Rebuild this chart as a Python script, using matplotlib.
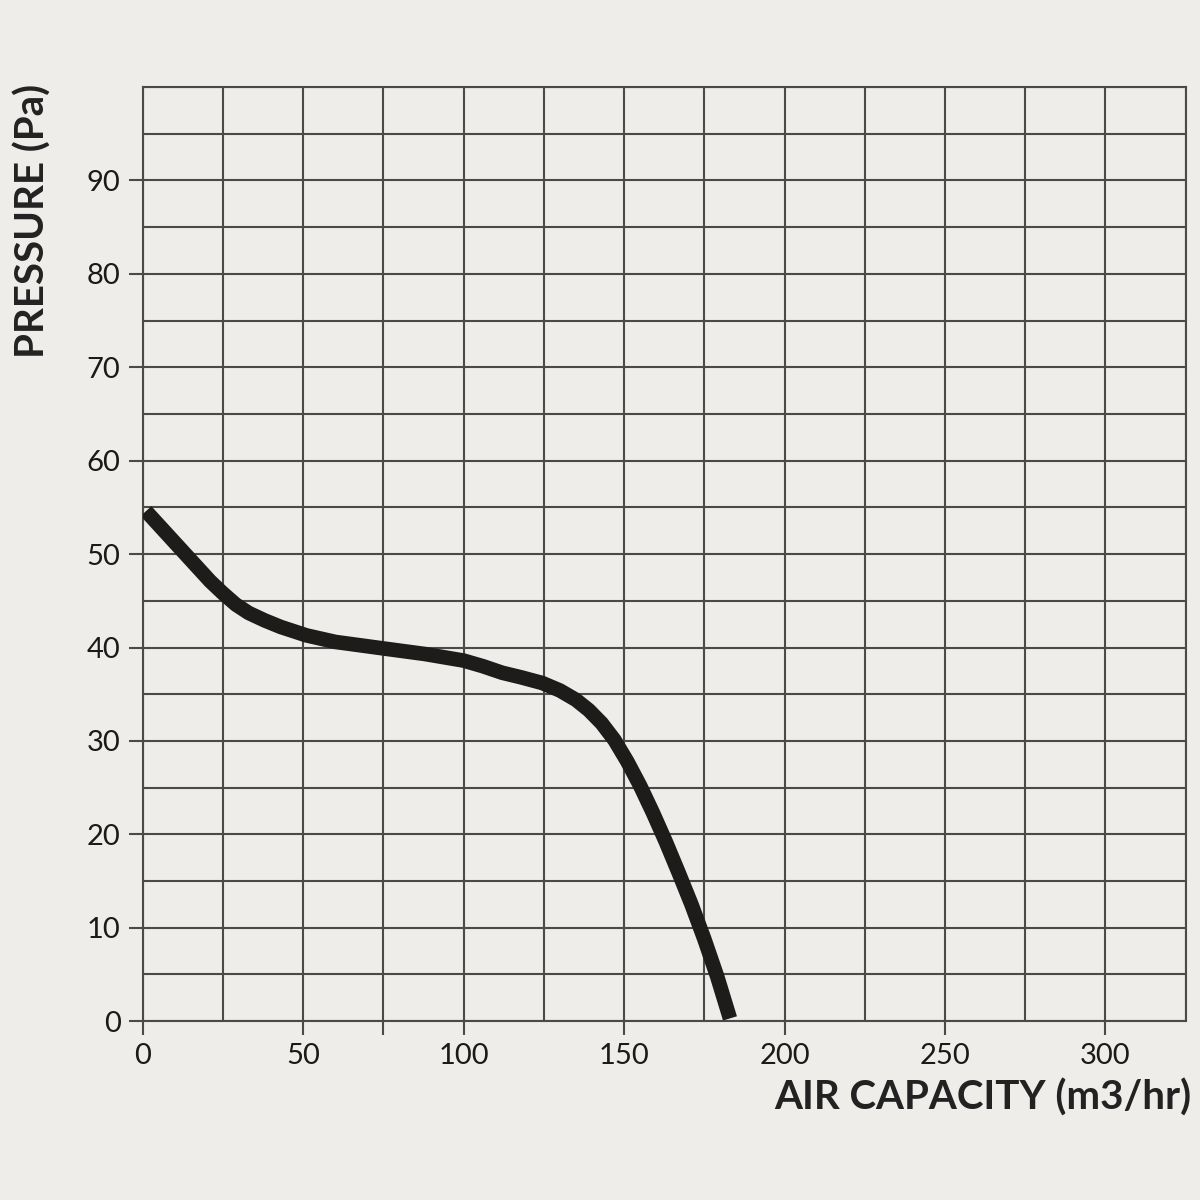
import matplotlib
matplotlib.use('Agg')
import matplotlib.pyplot as plt

air_capacity = [1, 9, 17, 21, 25, 29, 33, 38, 43, 51, 60, 75, 88, 100, 106, 112, 118, 124.5,
                130, 135, 139, 143, 147, 151, 155, 159, 163, 167, 171, 175, 179, 183]
pressure = [54.6, 51.6, 48.6, 47.1, 45.8, 44.6, 43.7, 42.9, 42.2, 41.3, 40.6, 39.9, 39.3, 38.6, 38.0, 37.3, 36.8, 36.2,
            35.4, 34.4, 33.3, 31.9, 30.1, 27.8, 25.2, 22.3, 19.2, 15.9, 12.5, 8.8, 4.8, 0.3]

x_ticks = [0, 50, 100, 150, 200, 250, 300]
y_ticks = [0, 10, 20, 30, 40, 50, 60, 70, 80, 90]

BG = '#eeede9'
GRID = '#4a4a4a'

fig = plt.figure(figsize=(12, 12), dpi=100, facecolor=BG)
ax = fig.add_axes([0.119, 0.149, 0.869, 0.7785], facecolor=BG)

# grid every 25 m3/hr and 5 Pa
for gx in range(0, 326, 25):
    ax.axvline(gx, color=GRID, lw=1.5, zorder=1)
for gy in range(0, 101, 5):
    ax.axhline(gy, color=GRID, lw=1.5, zorder=1)

ax.plot(air_capacity, pressure, color='#1e1b1b', lw=10.5, solid_capstyle='butt',
        solid_joinstyle='round', zorder=3)

ax.set_xlim(0, 325)
ax.set_ylim(0, 100)
for s in ax.spines.values():
    s.set_color(GRID)
    s.set_linewidth(1.5)

ax.set_xticks(x_ticks)
ax.set_xticks([75], minor=True)
ax.set_yticks(y_ticks)
ax.tick_params(axis='both', which='both', length=10, width=1.5, color=GRID,
               labelsize=21, labelcolor='#1a1a1a', pad=6)
for lab in ax.get_xticklabels() + ax.get_yticklabels():
    lab.set_family('Lato')

fig.text(0.993, 0.075, 'AIR CAPACITY (m3/hr)', ha='right', va='baseline',
         fontsize=29, fontweight='bold', family='Lato', color='#222222')
fig.text(0.027, 0.93, 'PRESSURE (Pa)', ha='center', va='top', rotation=90,
         fontsize=29, fontweight='bold', family='Lato', color='#222222')

fig.savefig('out.png', dpi=100, facecolor=BG)
